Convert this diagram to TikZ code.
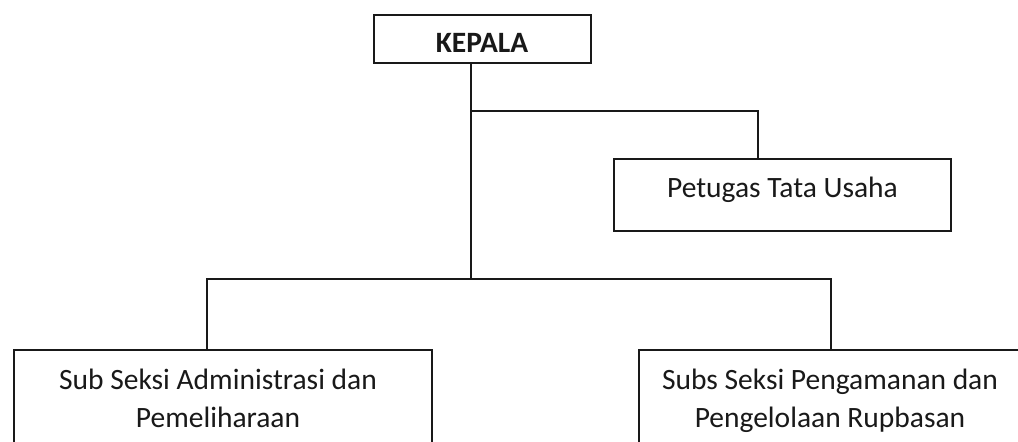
\documentclass[tikz,border=0pt]{standalone}
\usepackage{fontspec}
\setmainfont{Carlito}
\begin{document}
\begin{tikzpicture}[x=1pt,y=1pt,
  box/.style={draw=black!90, line width=1.6pt, inner sep=0pt, fill=white},
  lbl/.style={anchor=base, inner sep=0pt, text=black!90, font=\fontsize{29.5}{33}\selectfont},
  link/.style={draw=black!90, line width=1.6pt}]
\clip (0,0) rectangle (1018,442);
\fill[white] (0,0) rectangle (1018,442);
% boxes (y = 442 - pixel row)
\node[box, minimum width=217pt, minimum height=48pt] (kepala) at (482.5,403) {};
\node[box, minimum width=337pt, minimum height=72pt] (petugas) at (782.5,247) {};
\node[box, minimum width=418pt, minimum height=140pt] (left) at (223,22) {};
\node[box, minimum width=420pt, minimum height=140pt] (right) at (849,22) {};
% texts
\node[lbl, font=\fontsize{29.5}{33}\selectfont\bfseries] (tk) at (482,389) {KEPALA};
\node[lbl] (tp) at (782.5,244) {Petugas Tata Usaha};
\node[lbl] (tl1) at (218,52) {Sub Seksi Administrasi dan};
\node[lbl] (tl2) at (218,14) {Pemeliharaan};
\node[lbl] (tr1) at (830,52) {Subs Seksi Pengamanan dan};
\node[lbl] (tr2) at (830,14) {Pengelolaan Rupbasan};
% connector points
\coordinate (top) at (471,379);
\coordinate (br) at (471,331);
\coordinate (bar) at (471,163);
\coordinate (barL) at (207,163);
\coordinate (barR) at (831,163);
\coordinate (pt) at (758,331);
\coordinate (lt) at (207,92);
\coordinate (rt) at (831,92);
% connectors
\draw[link] (top) -- (bar);
\draw[link] (br) -- (pt) -- (pt |- petugas.north);
\draw[link] (lt) -- (barL) -- (barR) -- (rt);
\end{tikzpicture}
\end{document}
